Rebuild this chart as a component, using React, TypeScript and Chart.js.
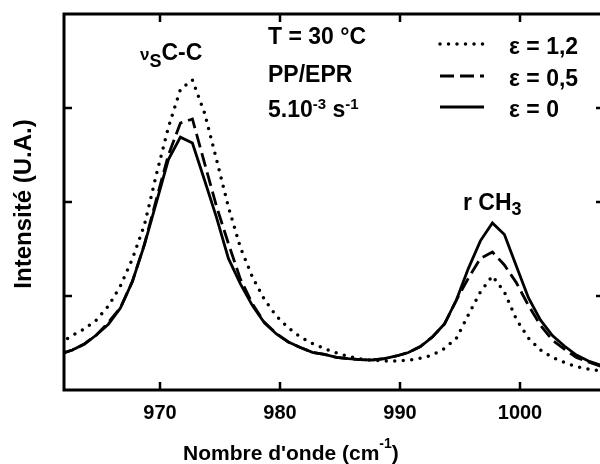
import React, { useEffect, useRef } from "react";
import { Chart, registerables } from "chart.js";

Chart.register(...registerables);

// Wavenumbers (cm-1)
const wavenumbers = [
  961.7, 962.7, 963.7, 964.7, 965.7, 966.7, 967.7, 968.7, 969.7, 970.7,
  971.7, 972.7, 973.7, 974.7, 975.7, 976.7, 977.7, 978.7, 979.7, 980.7,
  981.7, 982.7, 983.7, 984.7, 985.7, 986.7, 987.7, 988.7, 989.7, 990.7,
  991.7, 992.7, 993.7, 994.7, 995.7, 996.7, 997.7, 998.7, 999.7, 1000.7,
  1001.7, 1002.7, 1003.7, 1004.7, 1005.7, 1006.7, 1007.7,
];

// epsilon = 1,2 (dotted)
const eps12 = [
  0.5, 0.58, 0.65, 0.745, 0.894, 1.106, 1.395, 1.755, 2.293, 2.796,
  3.197, 3.298, 2.952, 2.457, 1.947, 1.516, 1.202, 0.963, 0.787, 0.66,
  0.564, 0.495, 0.441, 0.394, 0.356, 0.33, 0.317, 0.309, 0.309, 0.316,
  0.338, 0.372, 0.441, 0.55, 0.8, 1.043, 1.213, 1.043, 0.75, 0.553,
  0.426, 0.346, 0.293, 0.248, 0.223, 0.202, 0.186,
];

// epsilon = 0,5 (dashed)
const eps05 = [
  0.383, 0.426, 0.49, 0.585, 0.72, 0.875, 1.155, 1.55, 2.03, 2.5,
  2.84, 2.883, 2.42, 1.957, 1.558, 1.18, 0.918, 0.72, 0.6, 0.51,
  0.452, 0.4, 0.378, 0.348, 0.333, 0.323, 0.319, 0.334, 0.362, 0.399,
  0.463, 0.565, 0.7, 0.957, 1.19, 1.4, 1.468, 1.33, 1.14, 0.9,
  0.69, 0.53, 0.436, 0.346, 0.298, 0.255, 0.229,
];

// epsilon = 0 (solid)
const eps0 = [
  0.383, 0.426, 0.489, 0.585, 0.7, 0.872, 1.154, 1.543, 1.995, 2.452,
  2.69, 2.628, 2.237, 1.84, 1.4, 1.128, 0.898, 0.715, 0.596, 0.511,
  0.452, 0.401, 0.378, 0.348, 0.333, 0.323, 0.319, 0.334, 0.362, 0.399,
  0.463, 0.564, 0.702, 0.957, 1.294, 1.587, 1.777, 1.654, 1.317, 0.982,
  0.746, 0.58, 0.468, 0.372, 0.309, 0.266, 0.234,
];

const xTicks = [970, 980, 990, 1000];
const yTicks = [1, 2, 3];
const seriesLabels = ["ε = 1,2", "ε = 0,5", "ε = 0"];

const FONT = '"Liberation Sans", Arial, Helvetica, sans-serif';
const DOT = [0, 8.5];
const DASH = [14, 6];

type Seg = { t: string; size: number; dy?: number };

function drawRich(ctx: CanvasRenderingContext2D, x: number, y: number, segs: Seg[]) {
  let cx = x;
  for (const s of segs) {
    ctx.font = `bold ${s.size}px ${FONT}`;
    ctx.fillText(s.t, cx, y + (s.dy || 0));
    cx += ctx.measureText(s.t).width;
  }
}

export default function App() {
  const ref = useRef<HTMLCanvasElement>(null);

  useEffect(() => {
    if (!ref.current) return;
    const toPts = (arr: number[]) => wavenumbers.map((x, i) => ({ x, y: arr[i] }));

    const overlay = {
      id: "overlay",
      afterDraw(chart: any) {
        const ctx: CanvasRenderingContext2D = chart.ctx;
        const { left, right, top, bottom } = chart.chartArea;
        const xs = chart.scales.x;
        const ys = chart.scales.y;
        ctx.save();
        ctx.strokeStyle = "#000";
        ctx.fillStyle = "#000";
        ctx.setLineDash([]);
        // frame
        ctx.lineWidth = 3;
        ctx.beginPath();
        ctx.rect(left, top, right - left, bottom - top);
        ctx.stroke();
        // inward ticks
        ctx.lineWidth = 2.5;
        const TL = 8;
        for (const v of xTicks) {
          const px = xs.getPixelForValue(v);
          ctx.beginPath();
          ctx.moveTo(px, bottom);
          ctx.lineTo(px, bottom - TL);
          ctx.moveTo(px, top);
          ctx.lineTo(px, top + TL);
          ctx.stroke();
        }
        for (const v of yTicks) {
          const py = ys.getPixelForValue(v);
          ctx.beginPath();
          ctx.moveTo(left, py);
          ctx.lineTo(left + TL, py);
          ctx.moveTo(right, py);
          ctx.lineTo(right - TL, py);
          ctx.stroke();
        }

        ctx.textAlign = "left";
        ctx.textBaseline = "alphabetic";
        // annotations
        drawRich(ctx, 268, 44, [{ t: "T = 30 °C", size: 23 }]);
        drawRich(ctx, 268, 82, [{ t: "PP/EPR", size: 23 }]);
        drawRich(ctx, 268, 117, [
          { t: "5.10", size: 23 },
          { t: "-3", size: 15, dy: -8 },
          { t: " s", size: 23 },
          { t: "-1", size: 15, dy: -8 },
        ]);
        drawRich(ctx, 140, 60, [
          { t: "ν", size: 17 },
          { t: "S", size: 18, dy: 7 },
          { t: "C-C", size: 23 },
        ]);
        drawRich(ctx, 463, 210, [
          { t: "r CH", size: 23 },
          { t: "3", size: 18, dy: 5 },
        ]);

        // legend
        const legY = [44, 76, 107];
        const legText = [54, 86, 117];
        const styles = [
          { dash: DOT, w: 3.5, cap: "round" },
          { dash: DASH, w: 2.8, cap: "butt" },
          { dash: [], w: 2.8, cap: "butt" },
        ];
        for (let i = 0; i < 3; i++) {
          ctx.save();
          ctx.lineWidth = styles[i].w;
          ctx.lineCap = styles[i].cap as CanvasLineCap;
          ctx.setLineDash(styles[i].dash);
          ctx.beginPath();
          ctx.moveTo(440, legY[i]);
          ctx.lineTo(484, legY[i]);
          ctx.stroke();
          ctx.restore();
          drawRich(ctx, 509, legText[i], [{ t: seriesLabels[i], size: 23 }]);
        }

        // axis titles
        drawRich(ctx, 183, 460, [
          { t: "Nombre d'onde (cm", size: 21 },
          { t: "-1", size: 14, dy: -12 },
          { t: ")", size: 21 },
        ]);
        ctx.save();
        ctx.translate(31, 204);
        ctx.rotate(-Math.PI / 2);
        ctx.textAlign = "center";
        ctx.font = `bold 24px ${FONT}`;
        ctx.fillText("Intensité (U.A.)", 0, 0);
        ctx.restore();

        ctx.restore();
      },
    };

    const chart = new Chart(ref.current, {
      type: "line",
      data: {
        datasets: [
          {
            label: seriesLabels[2],
            data: toPts(eps0),
            borderColor: "#000",
            borderWidth: 2.8,
            pointRadius: 0,
            tension: 0,
          },
          {
            label: seriesLabels[1],
            data: toPts(eps05),
            borderColor: "#000",
            borderWidth: 2.8,
            borderDash: DASH,
            pointRadius: 0,
            tension: 0,
          },
          {
            label: seriesLabels[0],
            data: toPts(eps12),
            borderColor: "#000",
            borderWidth: 3.5,
            borderDash: DOT,
            borderCapStyle: "round",
            pointRadius: 0,
            tension: 0,
          },
        ],
      },
      options: {
        responsive: false,
        animation: false,
        layout: { padding: { left: 64, top: 14, right: 16, bottom: 0 } },
        plugins: { legend: { display: false }, tooltip: { enabled: false } },
        scales: {
          x: {
            type: "linear",
            min: 962,
            max: 1007,
            afterBuildTicks: (s: any) => {
              s.ticks = xTicks.map((v) => ({ value: v }));
            },
            afterFit: (s: any) => {
              s.height = 74;
            },
            grid: { display: false, drawTicks: false },
            border: { display: false },
            ticks: {
              color: "#000",
              font: { family: FONT, size: 20, weight: "bold" },
              padding: 11,
              maxRotation: 0,
              autoSkip: false,
              callback: (v: any) => String(v),
            },
          },
          y: { type: "linear", min: 0, max: 4, display: false },
        },
      },
      plugins: [overlay],
    } as any);

    return () => chart.destroy();
  }, []);

  return (
    <div
      style={{
        position: "fixed",
        left: 0,
        top: 0,
        width: 600,
        height: 464,
        overflow: "hidden",
        background: "#fff",
      }}
    >
      <canvas ref={ref} width={620} height={464} style={{ display: "block", width: 620, height: 464 }} />
    </div>
  );
}
